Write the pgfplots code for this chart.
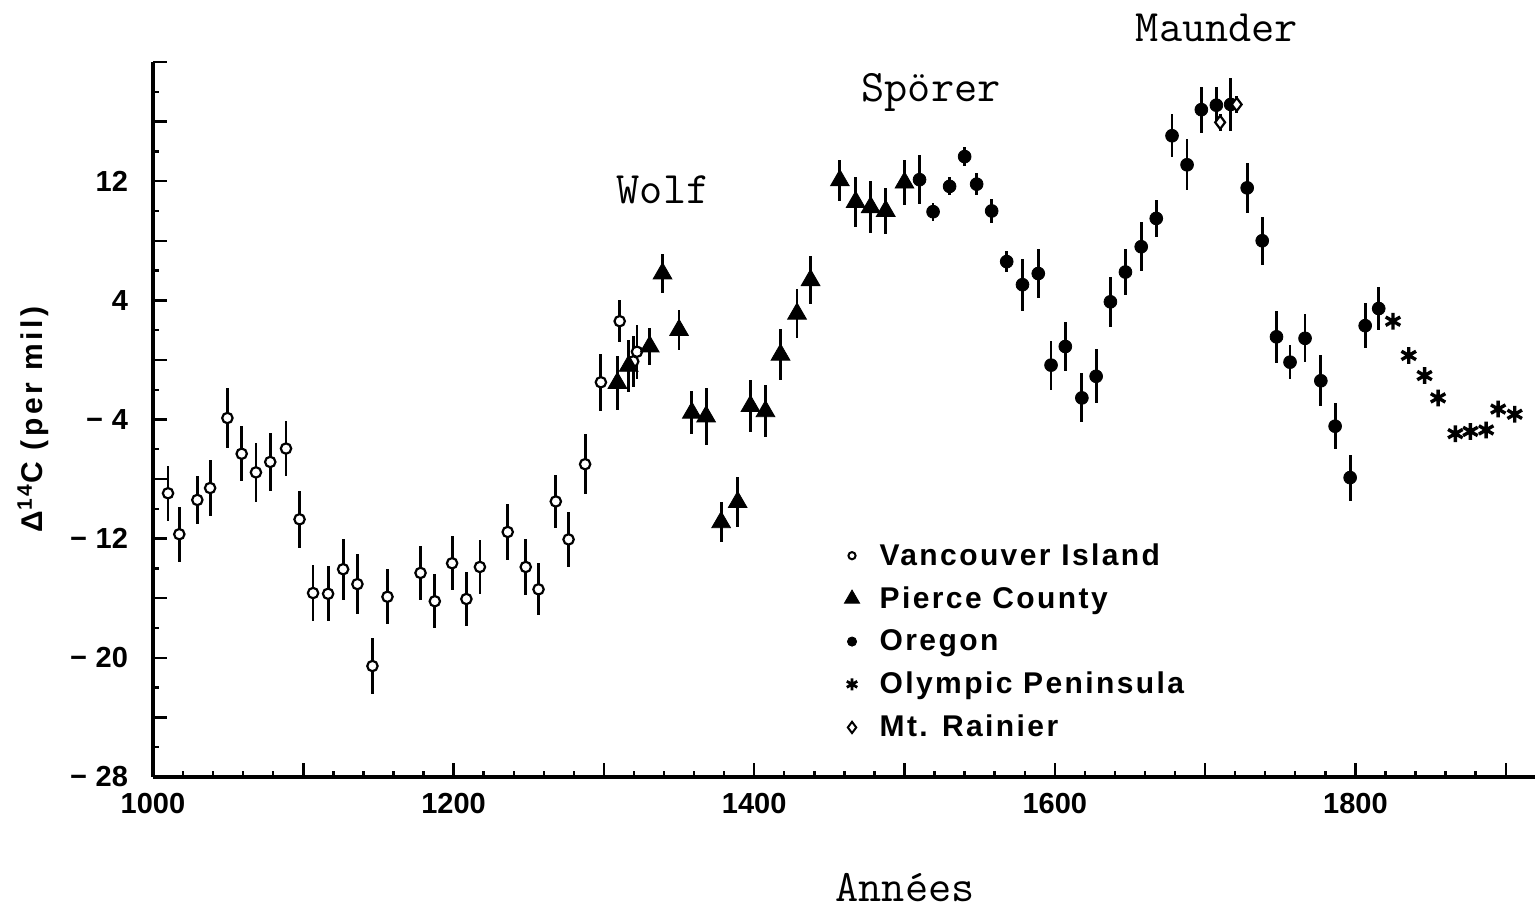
\documentclass[border=0pt]{standalone}
\usepackage{fontspec}
\setmainfont{Liberation Sans}
\newfontfamily\lsans[LetterSpace=8]{Liberation Sans}
\newfontfamily\lsansy[LetterSpace=12]{Liberation Sans}
\usepackage{pgfplots}
\pgfplotsset{compat=1.18}
\usepackage{pgfplotstable}

\pgfplotstableread{
x y e
1010 -8.95 1.85
1017.5 -11.7 1.85
1029.5 -9.4 1.6
1038 -8.6 1.9
1049.5 -3.9 2.0
1059 -6.3 1.85
1068.5 -7.55 2.0
1078 -6.85 1.95
1088.5 -5.95 1.85
1097.5 -10.7 1.9
1106.5 -15.65 1.85
1116.5 -15.7 1.85
1126.5 -14.05 2.05
1136 -15.05 2.0
1146 -20.55 1.9
1156 -15.9 1.85
1178 -14.3 1.8
1187.5 -16.2 1.8
1199 -13.65 1.8
1208.5 -16.05 1.8
1217.5 -13.9 1.8
1236 -11.55 1.85
1248 -13.9 1.9
1256.5 -15.4 1.75
1268 -9.5 1.8
1276.5 -12.05 1.85
1287.5 -7.0 2.0
1298 -1.5 1.9
1310.5 2.6 1.4
1319.5 -0.1 1.7
1322 0.55 1.8
}\vancouver

\pgfplotstableread{
x y e
1309 -1.55 1.8
1316.5 -0.4 1.75
1330.5 0.9 1.25
1339 5.8 1.3
1350 2.0 1.35
1358.5 -3.55 1.45
1368 -3.8 1.9
1378 -10.9 1.35
1389 -9.55 1.7
1397.5 -3.1 1.75
1407.5 -3.45 1.75
1417.5 0.35 1.7
1428.5 3.1 1.65
1437.5 5.35 1.6
1457 12.05 1.35
1467.5 10.6 1.7
1477.5 10.25 1.75
1487.5 10.0 1.55
1500 11.9 1.5
}\pierce

\pgfplotstableread{
x y e
1510 12.1 1.65
1519 9.95 0.6
1530 11.65 0.6
1540 13.65 0.65
1548 11.8 0.75
1558 10.0 0.8
1568 6.6 0.7
1578.5 5.05 1.75
1589 5.8 1.65
1597.5 -0.35 1.65
1607 0.9 1.65
1618 -2.55 1.65
1627.5 -1.1 1.8
1637 3.9 1.7
1647 5.9 1.55
1657.5 7.6 1.65
1667.5 9.5 1.25
1678 15.05 1.45
1688 13.1 1.7
1697.5 16.8 1.55
1707.5 17.1 1.2
1717 17.15 1.8
1728 11.55 1.7
1738 8.0 1.6
1747.5 1.55 1.75
1756.5 -0.15 1.15
1766.5 1.45 1.6
1777 -1.4 1.7
1786.5 -4.45 1.55
1796.5 -7.9 1.55
1806.5 2.3 1.5
1815.5 3.45 1.45
}\oregon

\pgfplotstableread{
x y e
1825 2.6 0.5
1835.5 0.3 0.5
1846 -1.05 0.5
1855 -2.55 0.5
1866.5 -4.95 0.4
1876.5 -4.8 0.4
1887 -4.7 0.5
1895 -3.3 0.5
1906 -3.65 0.4
}\olympic

\pgfplotstableread{
x y e
1710 15.95 0.55
1721 17.15 0.55
}\rainier

\begin{document}
\begin{tikzpicture}
\begin{axis}[
  scale only axis,
  width=691pt, height=357.5pt,
  xmin=1000, xmax=1919.5, ymin=-28, ymax=20,
  axis x line=bottom, axis y line=left,
  axis line style={-, line width=1.6pt},
  xtick={1000,1100,...,1900},
  xticklabels={1000,,1200,,1400,,1600,,1800,},
  minor x tick num=4,
  ytick={-28,-24,...,20},
  yticklabels={−\hspace{0.3em}28,,−\hspace{0.3em}20,,−\hspace{0.3em}12,,−\hspace{0.3em}4,,4,,12,,},
  minor y tick num=1,
  tick align=inside,
  major tick length=7pt,
  minor tick length=3pt,
  every tick/.style={black, line width=1.2pt},
  xticklabel style={font=\bfseries\fontsize{14.5}{16}\selectfont, yshift=-4.5pt},
  yticklabel style={font=\bfseries\fontsize{14.5}{16}\selectfont, xshift=-9pt},
  ylabel={Δ\textsuperscript{14}C (per mil)},
  ylabel style={at={(rel axis cs:0,0.5)}, anchor=center, rotate=0, yshift=60pt, font=\lsansy\bfseries\fontsize{15}{17}\selectfont},
  clip=false,
  legend cell align=left,
  legend style={at={(rel axis cs:0.5,0.333)}, anchor=north west, draw=none, fill=none,
    font=\lsans\bfseries\fontsize{15}{18}\selectfont, row sep=5.2pt, column sep=8pt, inner sep=0pt},
]
\coordinate (O) at (rel axis cs:0,0);

\addlegendimage{only marks, mark=*, mark size=1.8pt, mark options={fill=white, draw=black, line width=1pt}}
\addlegendentry{Vancouver Island}
\addlegendimage{only marks, mark=triangle*, mark size=4.4pt, mark options={fill=black, draw=black}}
\addlegendentry{Pierce County}
\addlegendimage{only marks, mark=*, mark size=2.3pt, mark options={fill=black, draw=black}}
\addlegendentry{Oregon}
\addlegendimage{only marks, mark=asterisk, mark size=3pt, mark options={draw=black, line width=1.4pt}}
\addlegendentry{Olympic Peninsula}
\addlegendimage{only marks, mark=diamond*, mark size=2.8pt, mark options={fill=white, draw=black, line width=1pt}}
\addlegendentry{Mt. Rainier}

\addplot[forget plot, only marks, mark=*, mark size=2.6pt, mark options={fill=white, draw=black, line width=1.1pt},
  error bars/.cd, y dir=both, y explicit, error mark=none, error bar style={line width=1.4pt, black}]
  table[x=x, y=y, y error=e] {\vancouver};
\addplot[forget plot, only marks, mark=triangle*, mark size=5.4pt, mark options={fill=black, draw=black},
  error bars/.cd, y dir=both, y explicit, error mark=none, error bar style={line width=1.4pt, black}]
  table[x=x, y=y, y error=e] {\pierce};
\addplot[forget plot, only marks, mark=*, mark size=3.2pt, mark options={fill=black, draw=black},
  error bars/.cd, y dir=both, y explicit, error mark=none, error bar style={line width=1.4pt, black}]
  table[x=x, y=y, y error=e] {\oregon};
\addplot[forget plot, only marks, mark=asterisk, mark size=4.2pt, mark options={draw=black, line width=1.7pt},
  error bars/.cd, y dir=both, y explicit, error mark=none, error bar style={line width=1.4pt, black}]
  table[x=x, y=y, y error=e] {\olympic};
\addplot[forget plot, only marks, mark=diamond*, mark size=3.3pt, mark options={fill=white, draw=black, line width=1.1pt},
  error bars/.cd, y dir=both, y explicit, error mark=none, error bar style={line width=1.4pt, black}]
  table[x=x, y=y, y error=e] {\rainier};
\end{axis}

\node[inner sep=0pt, font=\ttfamily\fontsize{22.5}{26}\selectfont] at ([shift={(255pt,293.5pt)}]O) {Wolf};
\node[inner sep=0pt, font=\ttfamily\fontsize{22.5}{26}\selectfont] at ([shift={(389pt,342.5pt)}]O) {Spörer};
\node[inner sep=0pt, font=\ttfamily\fontsize{22.5}{26}\selectfont] at ([shift={(532pt,374.5pt)}]O) {Maunder};
\node[inner sep=0pt, font=\ttfamily\fontsize{22.5}{26}\selectfont] at ([shift={(376pt,-55.5pt)}]O) {Années};

\pgfresetboundingbox
\path[use as bounding box] ([shift={(-76.5pt,-67pt)}]O) rectangle ([shift={(691pt,388.5pt)}]O);
\end{tikzpicture}
\end{document}
